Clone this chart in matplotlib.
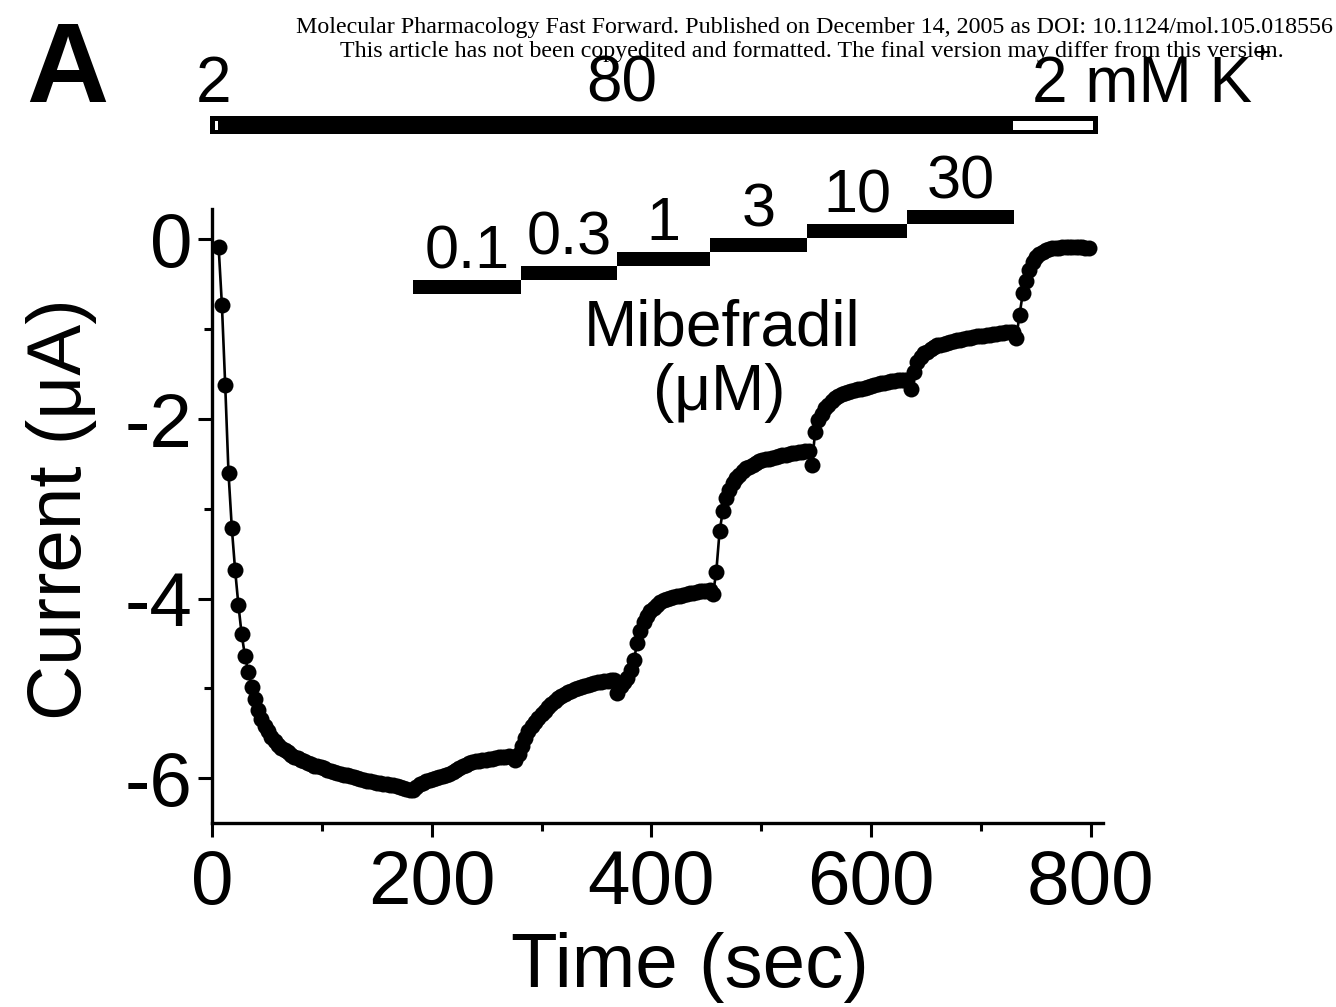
import numpy as np
import matplotlib.pyplot as plt
from matplotlib.patches import Rectangle
from matplotlib.ticker import MultipleLocator

plt.rcParams['font.family'] = ['Liberation Sans', 'DejaVu Sans']
plt.rcParams['axes.unicode_minus'] = False

# sample times (sec)
time_s = [
    6, 9, 12, 15, 18, 21, 24, 27, 30, 33, 36, 39, 42, 45, 48, 51, 54, 57, 60, 63,
    66, 69, 72, 75, 78, 81, 84, 87, 90, 93, 96, 99, 102, 105, 108, 111, 114, 117, 120, 123,
    126, 129, 132, 135, 138, 141, 144, 147, 150, 153, 156, 159, 162, 165, 168, 171, 174, 177, 180, 183,
    186, 189, 192, 195, 198, 201, 204, 207, 210, 213, 216, 219, 222, 225, 228, 231, 234, 237, 240, 243,
    246, 249, 252, 255, 258, 261, 264, 267, 270, 273, 276, 279, 282, 285, 288, 291, 294, 297, 300, 303,
    306, 309, 312, 315, 318, 321, 324, 327, 330, 333, 336, 339, 342, 345, 348, 351, 354, 357, 360, 363,
    366, 369, 372, 375, 378, 381, 384, 387, 390, 393, 396, 399, 402, 405, 408, 411, 414, 417, 420, 423,
    426, 429, 432, 435, 438, 441, 444, 447, 450, 453, 456, 459, 462, 465, 468, 471, 474, 477, 480, 483,
    486, 489, 492, 495, 498, 501, 504, 507, 510, 513, 516, 519, 522, 525, 528, 531, 534, 537, 540, 543,
    546, 549, 552, 555, 558, 561, 564, 567, 570, 573, 576, 579, 582, 585, 588, 591, 594, 597, 600, 603,
    606, 609, 612, 615, 618, 621, 624, 627, 630, 633, 636, 639, 642, 645, 648, 651, 654, 657, 660, 663,
    666, 669, 672, 675, 678, 681, 684, 687, 690, 693, 696, 699, 702, 705, 708, 711, 714, 717, 720, 723,
    726, 729, 732, 735, 738, 741, 744, 747, 750, 753, 756, 759, 762, 765, 768, 771, 774, 777, 780, 783,
    786, 789, 792, 795, 798,
]

# current (uA)
current_uA = [
    -0.08, -0.73, -1.62, -2.60, -3.21, -3.68, -4.07, -4.40, -4.64, -4.82, -4.98, -5.12, -5.24, -5.34, -5.42, -5.48, -5.54, -5.59, -5.63, -5.66,
    -5.69, -5.71, -5.74, -5.76, -5.78, -5.80, -5.81, -5.83, -5.84, -5.86, -5.87, -5.88, -5.89, -5.91, -5.92, -5.93, -5.94, -5.95, -5.96, -5.97,
    -5.98, -5.99, -6.00, -6.01, -6.02, -6.03, -6.03, -6.04, -6.05, -6.05, -6.06, -6.07, -6.08, -6.08, -6.09, -6.10, -6.11, -6.12, -6.13, -6.13,
    -6.10, -6.07, -6.05, -6.03, -6.02, -6.01, -6.00, -5.99, -5.98, -5.97, -5.95, -5.93, -5.91, -5.89, -5.87, -5.85, -5.83, -5.82, -5.81, -5.81,
    -5.80, -5.80, -5.79, -5.79, -5.78, -5.77, -5.76, -5.76, -5.75, -5.76, -5.80, -5.73, -5.64, -5.55, -5.48, -5.42, -5.37, -5.33, -5.29, -5.25,
    -5.21, -5.17, -5.14, -5.11, -5.08, -5.06, -5.04, -5.03, -5.01, -5.00, -4.98, -4.97, -4.96, -4.95, -4.94, -4.93, -4.93, -4.92, -4.92, -4.91,
    -4.91, -5.05, -4.97, -4.93, -4.88, -4.80, -4.68, -4.50, -4.36, -4.26, -4.19, -4.14, -4.10, -4.07, -4.04, -4.02, -4.01, -3.99, -3.98, -3.97,
    -3.97, -3.96, -3.95, -3.94, -3.94, -3.93, -3.92, -3.92, -3.91, -3.90, -3.95, -3.70, -3.25, -3.02, -2.88, -2.79, -2.71, -2.66, -2.62, -2.58,
    -2.55, -2.53, -2.51, -2.49, -2.47, -2.46, -2.45, -2.44, -2.43, -2.42, -2.41, -2.40, -2.40, -2.39, -2.38, -2.38, -2.37, -2.37, -2.36, -2.36,
    -2.51, -2.14, -2.01, -1.94, -1.88, -1.84, -1.80, -1.77, -1.74, -1.72, -1.71, -1.70, -1.69, -1.68, -1.67, -1.66, -1.65, -1.64, -1.63, -1.62,
    -1.61, -1.60, -1.60, -1.59, -1.58, -1.58, -1.57, -1.57, -1.56, -1.56, -1.66, -1.48, -1.37, -1.31, -1.27, -1.25, -1.22, -1.20, -1.18, -1.17,
    -1.16, -1.15, -1.14, -1.13, -1.12, -1.12, -1.11, -1.10, -1.10, -1.09, -1.08, -1.08, -1.07, -1.06, -1.06, -1.05, -1.05, -1.04, -1.04, -1.03,
    -1.03, -1.03, -1.10, -0.84, -0.60, -0.46, -0.34, -0.25, -0.19, -0.16, -0.14, -0.12, -0.11, -0.10, -0.09, -0.09, -0.08, -0.08, -0.08, -0.08,
    -0.08, -0.08, -0.08, -0.09, -0.09,
]

# mibefradil applications (uM) and their start / end times (sec)
mibe_labels = ['0.1', '0.3', '1', '3', '10', '30']
mibe_start = [183, 281, 369, 453, 542, 633]
mibe_end = [281, 369, 453, 542, 633, 730]

# K+ solution exchange (mM): 2 -> 80 -> 2
k_labels = ['2', '80', '2 mM K']
k_high_start = 5.5
k_high_end = 729
trace_end = 806

fig = plt.figure(figsize=(13.36, 10.07), dpi=100)
ax = fig.add_axes([0.1587, 0.1827, 0.6669, 0.6098])

ax.plot(time_s, current_uA, color='black', lw=1.9, marker='o', ms=11.5,
        markeredgewidth=0)

ax.set_xlim(0, 811)
ax.set_ylim(-6.5, 0.34)
ax.xaxis.set_major_locator(MultipleLocator(200))
ax.xaxis.set_minor_locator(MultipleLocator(100))
ax.yaxis.set_major_locator(MultipleLocator(2))
ax.yaxis.set_minor_locator(MultipleLocator(1))
ax.tick_params(which='both', direction='out', width=2.2, labelsize=55)
ax.tick_params(which='major', length=10)
ax.tick_params(which='minor', length=6)
ax.tick_params(axis='x', pad=9)
ax.tick_params(axis='y', pad=4)
for s in ['top', 'right']:
    ax.spines[s].set_visible(False)
for s in ['left', 'bottom']:
    ax.spines[s].set_linewidth(2.4)

ax.set_xlabel('Time (sec)', fontsize=55)
ax.xaxis.label.set_va('baseline')
ax.xaxis.set_label_coords(0.5365, -0.267)
ax.set_ylabel('Current (μA)', fontsize=55)
ax.yaxis.label.set_va('baseline')
ax.yaxis.set_label_coords(-0.147, 0.511)

# mibefradil staircase bars
bar_h = 0.156
for i, lab in enumerate(mibe_labels):
    yc = -0.529 + 0.155 * i
    ax.broken_barh([(mibe_start[i], mibe_end[i] - mibe_start[i])],
                   (yc - bar_h / 2, bar_h), facecolors='black', clip_on=False)
    ax.text((mibe_start[i] + mibe_end[i]) / 2, yc + bar_h / 2 + 0.13, lab,
            ha='center', va='baseline', fontsize=44)

ax.text(464, -1.186, 'Mibefradil', ha='center', va='baseline', fontsize=46)
ax.text(462, -1.90, '(μM)', ha='center', va='baseline', fontsize=46)

# K+ bar on top
ax.add_patch(Rectangle((-1.8, 1.175), trace_end + 1.8, 0.2,
                       facecolor='black', edgecolor='none', clip_on=False))
ax.add_patch(Rectangle((2.5, 1.219), k_high_start - 2.5, 0.104,
                       facecolor='white', edgecolor='none', clip_on=False))
ax.add_patch(Rectangle((k_high_end, 1.219), trace_end - 4.5 - k_high_end, 0.104,
                       facecolor='white', edgecolor='none', clip_on=False))
ax.text(1.8, 1.535, k_labels[0], ha='center', va='baseline', fontsize=46)
ax.text(373, 1.535, k_labels[1], ha='center', va='baseline', fontsize=46)
ax.text(746, 1.535, k_labels[2], ha='left', va='baseline', fontsize=46)
ax.text(956, 2.05, '+', ha='center', va='center', fontsize=23)

fig.text(0.0195, 0.8987, 'A', fontsize=82, fontweight='bold', va='baseline')

fig.text(0.6093, 0.9722,
         'Molecular Pharmacology Fast Forward. Published on December 14, 2005 as DOI: 10.1124/mol.105.018556',
         ha='center', va='center', fontsize=17.3, family='Liberation Serif')
fig.text(0.6075, 0.9484,
         'This article has not been copyedited and formatted. The final version may differ from this version.',
         ha='center', va='center', fontsize=17.3, family='Liberation Serif')

fig.savefig('out.png', dpi=100)
